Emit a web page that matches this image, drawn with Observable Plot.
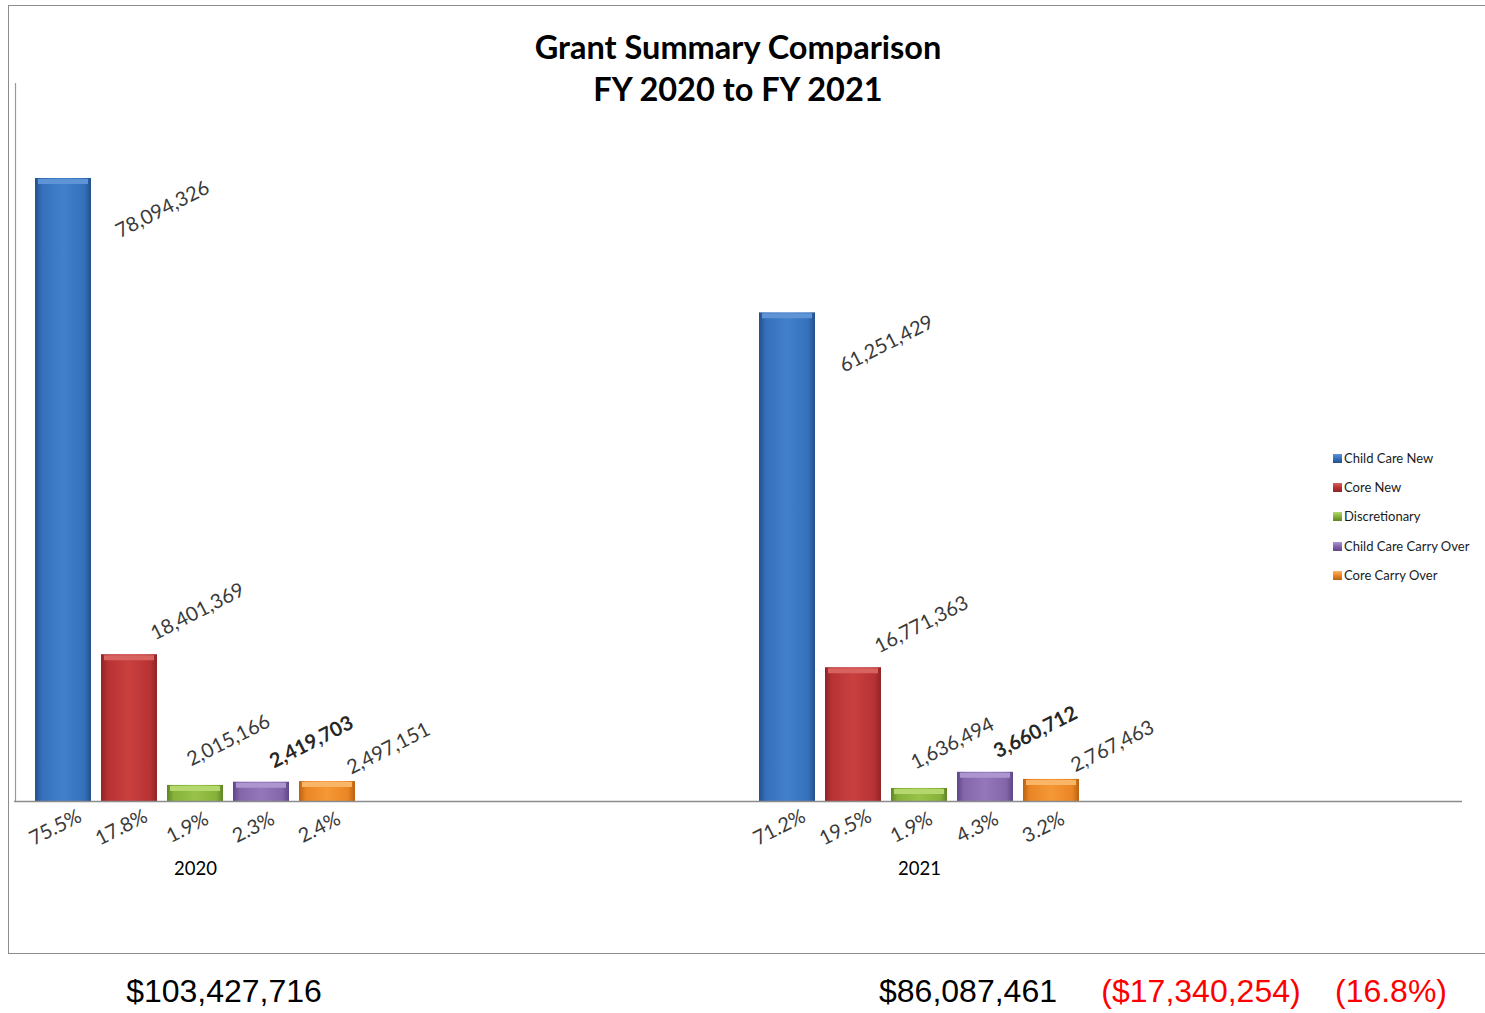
<!DOCTYPE html>
<html>
<head>
<meta charset="utf-8">
<script src="https://cdn.jsdelivr.net/npm/d3@7"></script>
<script src="https://cdn.jsdelivr.net/npm/@observablehq/plot@0.6"></script>
<style>
  html, body { margin: 0; padding: 0; background: #fff; overflow: hidden; }
  #page { position: relative; width: 1485px; height: 1013px; overflow: hidden; font-family: Lato, "Open Sans", sans-serif; }
  #frame { position: absolute; left: 8px; top: 5px; width: 1600px; height: 947px; border: 1.5px solid #8c8c8c; }
  #title { position: absolute; left: 0; width: 1476px; top: 26px; text-align: center; font-weight: 700; font-size: 32.5px; line-height: 42px; color: #000; }
  #chart { position: absolute; left: 0; top: 80px; }
  #chart svg { background: transparent; overflow: visible; }
  #legend { position: absolute; left: 1333px; top: 444px; font-size: 13px; color: #1a1a1a; }
  #legend .item { height: 29.2px; line-height: 29.2px; white-space: nowrap; display: flex; align-items: center; }
  #legend .sw { width: 9px; height: 9px; margin-right: 2px; display: inline-block; }
  .total { position: absolute; top: 975px; font-family: "Liberation Sans", Arial, sans-serif; font-size: 32px; line-height: 32px; white-space: nowrap; transform: translateX(-50%); }
</style>
</head>
<body>
<svg width="0" height="0" style="position:absolute">
  <defs id="defs"></defs>
</svg>
<div id="page">
  <div id="frame"></div>
  <div id="title"></div>
  <div id="chart"></div>
  <div id="legend"></div>
</div>
<script>
// ---- data ----
const years = ["2020", "2021"];
const series = ["Child Care New", "Core New", "Discretionary", "Child Care Carry Over", "Core Carry Over"];
const values2020 = [78094326, 18401369, 2015166, 2419703, 2497151];
const values2021 = [61251429, 16771363, 1636494, 3660712, 2767463];
const pct2020 = ["75.5%", "17.8%", "1.9%", "2.3%", "2.4%"];
const pct2021 = ["71.2%", "19.5%", "1.9%", "4.3%", "3.2%"];
const totals = ["$103,427,716", "$86,087,461"];
const changeAmount = "($17,340,254)";
const changePct = "(16.8%)";
const titleLines = ["Grant Summary Comparison", "FY 2020 to FY 2021"];

// ---- styles ----
const barColors = [
  {edge: "#24508c", mid: "#3470bb", light: "#4380cc", bevel: "#5e93d6"},
  {edge: "#8e2426", mid: "#b83234", light: "#c9403f", bevel: "#d8625f"},
  {edge: "#5f8427", mid: "#86b23a", light: "#98c24a", bevel: "#b4d86e"},
  {edge: "#5e4685", mid: "#8465ab", light: "#9477bb", bevel: "#ad96d0"},
  {edge: "#b86212", mid: "#ea8524", light: "#f59836", bevel: "#fbb566"}
];
const labelOffsets = [
  {dx: 99, dy: 31}, {dx: 68, dy: -43}, {dx: 33, dy: -45}, {dx: 50, dy: -40}, {dx: 61, dy: -33}
];

// gradients
const defs = document.getElementById("defs");
barColors.forEach((c, i) => {
  defs.innerHTML += `<linearGradient id="g${i}" x1="0" x2="1" y1="0" y2="0">
    <stop offset="0" stop-color="${c.edge}"/>
    <stop offset="0.12" stop-color="${c.mid}"/>
    <stop offset="0.5" stop-color="${c.light}"/>
    <stop offset="0.88" stop-color="${c.mid}"/>
    <stop offset="1" stop-color="${c.edge}"/>
  </linearGradient>`;
});

const data = years.flatMap((yr, yi) => series.map((s, si) => ({
  year: yr, series: s, si,
  value: (yi ? values2021 : values2020)[si],
  pct: (yi ? pct2021 : pct2020)[si]
})));
const fmt = d3.format(",");

const marks = [
  Plot.ruleX([{year: years[0]}], {fx: "year", x: () => series[0], dx: -48, y1: 0, y2: 90e6, stroke: "#9a9a9a", strokeWidth: 1.2}),
  Plot.barY(data, {fx: "year", x: "series", y: "value", fill: {value: d => `url(#g${d.si})`, scale: null}}),
  Plot.tickY(data, {fx: "year", x: "series", y: "value", stroke: {value: d => barColors[d.si].bevel, scale: null}, strokeWidth: 5, dy: 3, inset: 3}),
  Plot.ruleY([0], {stroke: "#8c8c8c", strokeWidth: 1.5}),
  Plot.text(data, {fx: "year", x: "series", y: 0, text: "pct", rotate: -27, dx: -8, dy: 26, fontSize: 20, fill: "#3a3a3a"}),
  Plot.text(years, {fx: d => d, x: () => series[2], y: 0, text: d => d, dy: 68, fontSize: 18.5, fill: "#000"}),
  ...series.map((s, i) => Plot.text(data, {
    filter: d => d.si === i,
    fx: "year", x: "series", y: "value", text: d => fmt(d.value),
    rotate: -27, dx: labelOffsets[i].dx, dy: labelOffsets[i].dy,
    fontSize: 20, fontWeight: i === 3 ? 700 : 400, fill: i === 3 ? "#262626" : "#3a3a3a"
  }))
];

const chart = Plot.plot({
  width: 1485,
  height: 820,
  marginLeft: 13,
  marginRight: 23,
  marginTop: 3,
  marginBottom: 99,
  style: {background: "transparent", fontFamily: "Lato, 'Open Sans', sans-serif"},
  fx: {domain: years, padding: 0, axis: null},
  x: {domain: series, range: [33, 355], paddingInner: 0.158, paddingOuter: 0, axis: null},
  y: {domain: [0, 90e6], axis: null},
  marks
});
document.getElementById("chart").appendChild(chart);

// title
document.getElementById("title").innerHTML = titleLines.map(t => `<div>${t}</div>`).join("");

// legend
const legend = document.getElementById("legend");
series.forEach((s, i) => {
  const c = barColors[i];
  legend.innerHTML += `<div class="item"><span class="sw" style="background:linear-gradient(${c.bevel}, ${c.mid} 50%, ${c.edge})"></span>${s}</div>`;
});

// bottom totals
const page = document.getElementById("page");
const bottom = [
  {text: totals[0], x: 224, color: "#000"},
  {text: totals[1], x: 968, color: "#000"},
  {text: changeAmount, x: 1201, color: "#ff0000"},
  {text: changePct, x: 1391, color: "#ff0000"}
];
bottom.forEach(b => {
  const el = document.createElement("div");
  el.className = "total";
  el.style.left = b.x + "px";
  el.style.color = b.color;
  el.textContent = b.text;
  page.appendChild(el);
});
</script>
</body>
</html>
